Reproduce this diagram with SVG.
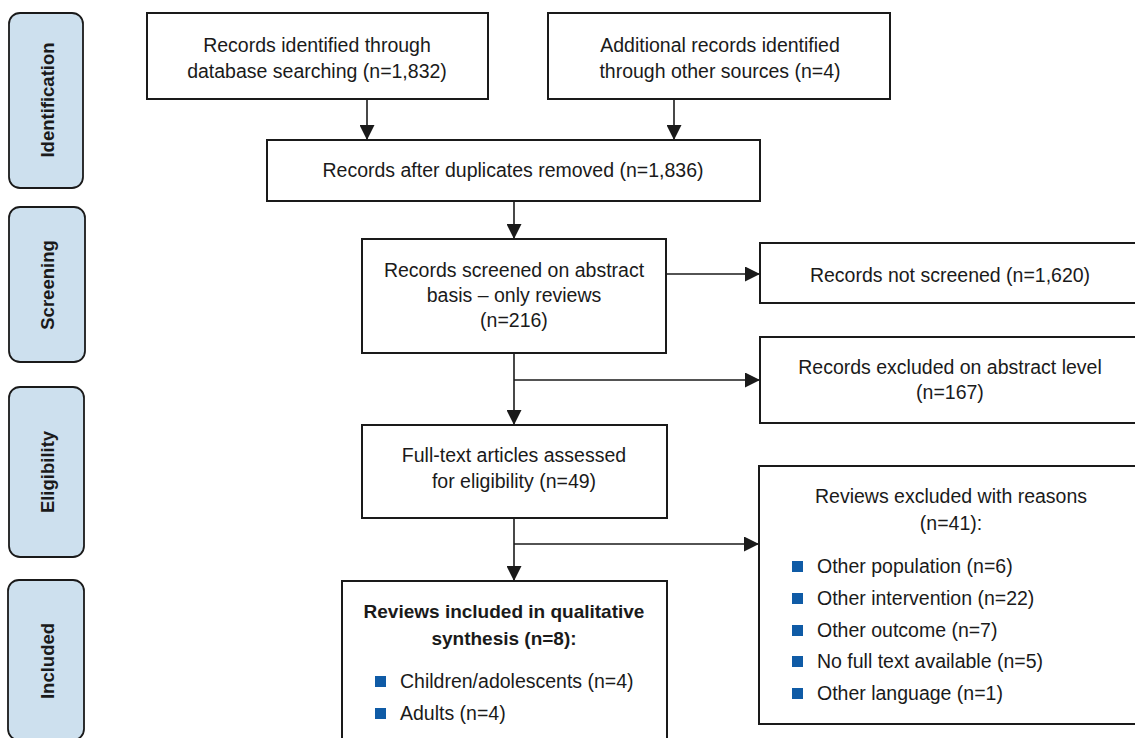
<svg xmlns="http://www.w3.org/2000/svg" width="1135" height="738" viewBox="0 0 1135 738">
<defs>
<style>
.box{fill:#fff;stroke:#1a1a1a;stroke-width:2}
.side{fill:#cde0ee;stroke:#1a1a1a;stroke-width:1.8}
.t{font-family:"Liberation Sans",Arial,sans-serif;font-size:19.5px;fill:#1a1a1a;text-anchor:middle}
.tl{font-family:"Liberation Sans",Arial,sans-serif;font-size:19.5px;fill:#1a1a1a}
.b{font-family:"Liberation Sans",Arial,sans-serif;font-size:19px;font-weight:bold;fill:#1a1a1a;text-anchor:middle}
.st{font-family:"Liberation Sans",Arial,sans-serif;font-size:18.5px;font-weight:bold;fill:#1a1a1a;text-anchor:middle}
.ln{fill:none;stroke:#1a1a1a;stroke-width:1.6}
.bul{fill:#0f5ba6}
</style>
<marker id="ah" markerUnits="userSpaceOnUse" markerWidth="15" markerHeight="15" refX="15" refY="7.5" orient="auto">
<path d="M0,0 L15,7.5 L0,15 z" fill="#1a1a1a"/>
</marker>
</defs>
<rect width="1135" height="738" fill="#fff"/>

<g id="stage-identification">
<rect class="side" x="9" y="13" width="74" height="175" rx="11"/>
<text class="st" transform="translate(47,100) rotate(-90)" dy="0.36em">Identification</text>
</g>
<g id="stage-screening">
<rect class="side" x="9" y="207" width="76" height="155" rx="11"/>
<text class="st" transform="translate(47,285) rotate(-90)" dy="0.36em">Screening</text>
</g>
<g id="stage-eligibility">
<rect class="side" x="9" y="387" width="75" height="170" rx="11"/>
<text class="st" transform="translate(47,472) rotate(-90)" dy="0.36em">Eligibility</text>
</g>
<g id="stage-included">
<rect class="side" x="8" y="580" width="76" height="160" rx="11"/>
<text class="st" transform="translate(47,661) rotate(-90)" dy="0.36em">Included</text>
</g>

<g id="connectors">
<path class="ln" d="M367,99 V140" marker-end="url(#ah)"/>
<path class="ln" d="M674,99 V140" marker-end="url(#ah)"/>
<path class="ln" d="M514,201 V239" marker-end="url(#ah)"/>
<path class="ln" d="M666,274 H760" marker-end="url(#ah)"/>
<path class="ln" d="M514,353 V425" marker-end="url(#ah)"/>
<path class="ln" d="M514,380 H760" marker-end="url(#ah)"/>
<path class="ln" d="M514,518 V581" marker-end="url(#ah)"/>
<path class="ln" d="M514,544 H759" marker-end="url(#ah)"/>
</g>

<g id="n-database">
<rect class="box" x="147" y="13" width="341" height="86"/>
<text class="t" x="317" y="52">Records identified through</text>
<text class="t" x="317" y="78">database searching (n=1,832)</text>
</g>
<g id="n-other">
<rect class="box" x="548" y="13" width="342" height="86"/>
<text class="t" x="720" y="52">Additional records identified</text>
<text class="t" x="720" y="78">through other sources (n=4)</text>
</g>
<g id="n-duplicates">
<rect class="box" x="267" y="140" width="493" height="61"/>
<text class="t" x="513" y="177">Records after duplicates removed (n=1,836)</text>
</g>
<g id="n-screened">
<rect class="box" x="362" y="239" width="304" height="114"/>
<text class="t" x="514" y="277">Records screened on abstract</text>
<text class="t" x="514" y="302">basis – only reviews</text>
<text class="t" x="514" y="327">(n=216)</text>
</g>
<g id="n-not-screened">
<rect class="box" x="760" y="243" width="380" height="60"/>
<text class="t" x="950" y="282">Records not screened (n=1,620)</text>
</g>
<g id="n-excluded-abstract">
<rect class="box" x="760" y="337" width="380" height="86"/>
<text class="t" x="950" y="374">Records excluded on abstract level</text>
<text class="t" x="950" y="399">(n=167)</text>
</g>
<g id="n-fulltext">
<rect class="box" x="362" y="425" width="305" height="93"/>
<text class="t" x="514" y="462">Full-text articles assessed</text>
<text class="t" x="514" y="488">for eligibility (n=49)</text>
</g>
<g id="n-excluded-reasons">
<rect class="box" x="759" y="466" width="381" height="258"/>
<text class="t" x="951" y="503">Reviews excluded with reasons</text>
<text class="t" x="951" y="530">(n=41):</text>
<rect class="bul" x="792" y="561" width="11" height="11"/>
<text class="tl" x="817" y="573">Other population (n=6)</text>
<rect class="bul" x="792" y="593" width="11" height="11"/>
<text class="tl" x="817" y="605">Other intervention (n=22)</text>
<rect class="bul" x="792" y="625" width="11" height="11"/>
<text class="tl" x="817" y="637">Other outcome (n=7)</text>
<rect class="bul" x="792" y="656" width="11" height="11"/>
<text class="tl" x="817" y="668">No full text available (n=5)</text>
<rect class="bul" x="792" y="688" width="11" height="11"/>
<text class="tl" x="817" y="700">Other language (n=1)</text>
</g>
<g id="n-included">
<rect class="box" x="342" y="581" width="325" height="170"/>
<text class="b" x="504" y="618">Reviews included in qualitative</text>
<text class="b" x="504" y="645">synthesis (n=8):</text>
<rect class="bul" x="375" y="676" width="11" height="11"/>
<text class="tl" x="400" y="688">Children/adolescents (n=4)</text>
<rect class="bul" x="375" y="708" width="11" height="11"/>
<text class="tl" x="400" y="720">Adults (n=4)</text>
</g>
</svg>
